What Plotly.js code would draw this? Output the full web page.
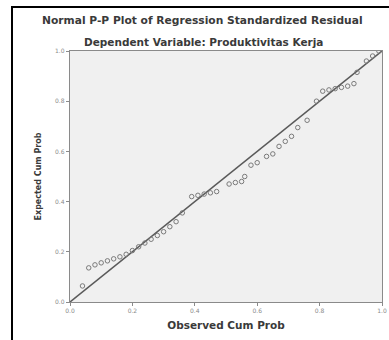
<!DOCTYPE html>
<html>
<head>
<meta charset="utf-8">
<script src="https://cdn.plot.ly/plotly-3.0.1.min.js"></script>
<style>
  html, body { margin: 0; padding: 0; background: #ffffff; }
  #wrap { position: relative; width: 389px; height: 340px; overflow: hidden; }
  #chart { width: 389px; height: 340px; }
  #frame { position: absolute; left: 11px; top: 6px; width: 400px; height: 400px;
           border-left: 2px solid #000; border-top: 2px solid #000; pointer-events: none; }
</style>
</head>
<body>
<div id="wrap">
  <div id="chart"></div>
  <div id="frame"></div>
</div>
<script>
var chartTitle = "Normal P-P Plot of Regression Standardized Residual";
var subTitle = "Dependent Variable: Produktivitas Kerja";
var xTitle = "Observed Cum Prob";
var yTitle = "Expected Cum Prob";

var tickValues = [0, 0.2, 0.4, 0.6, 0.8, 1.0];
var tickLabels = ["0.0", "0.2", "0.4", "0.6", "0.8", "1.0"];

var observedCumProb = [0.04, 0.06, 0.08, 0.10, 0.12, 0.14, 0.16, 0.18, 0.20, 0.22,
                       0.24, 0.26, 0.28, 0.30, 0.32, 0.34, 0.36, 0.39, 0.41, 0.43,
                       0.45, 0.47, 0.51, 0.53, 0.55, 0.56, 0.58, 0.60, 0.63, 0.65,
                       0.67, 0.69, 0.71, 0.73, 0.76, 0.79, 0.81, 0.83, 0.85, 0.87,
                       0.89, 0.91, 0.92, 0.95, 0.97, 0.99];
var expectedCumProb = [0.064, 0.136, 0.148, 0.156, 0.164, 0.172, 0.180, 0.190, 0.205, 0.220,
                       0.235, 0.250, 0.265, 0.280, 0.300, 0.320, 0.355, 0.420, 0.425, 0.430,
                       0.435, 0.440, 0.470, 0.476, 0.480, 0.500, 0.545, 0.555, 0.580, 0.590,
                       0.620, 0.640, 0.660, 0.695, 0.724, 0.800, 0.840, 0.845, 0.850, 0.855,
                       0.860, 0.870, 0.915, 0.960, 0.980, 1.000];

var refLineX = [0, 1];
var refLineY = [0, 1];

var fontFam = "DejaVu Sans, Verdana, sans-serif";

var traces = [
  {
    x: refLineX, y: refLineY, type: "scatter", mode: "lines",
    line: { color: "#5a5a5a", width: 1.5 }, hoverinfo: "skip", showlegend: false
  },
  {
    x: observedCumProb, y: expectedCumProb, type: "scatter", mode: "markers",
    marker: { symbol: "circle-open", size: 4.5, color: "#7a7a7a", line: { width: 1, color: "#7a7a7a" } },
    showlegend: false
  }
];

var axisCommon = {
  range: [0, 1], tickvals: tickValues, ticktext: tickLabels,
  showgrid: false, zeroline: false, showline: true, mirror: true,
  linecolor: "#8a8a8a", linewidth: 1.2, ticks: "outside", ticklen: 3,
  tickcolor: "#8a8a8a", tickfont: { family: fontFam, size: 6, color: "#8a8a8a" }
};

var layout = {
  width: 389, height: 340,
  margin: { l: 70, r: 7, t: 51, b: 38, pad: 0 },
  paper_bgcolor: "#ffffff",
  plot_bgcolor: "#f0f0f0",
  xaxis: Object.assign({}, axisCommon, {
    title: { text: "<b>" + xTitle + "</b>", standoff: 8,
             font: { family: fontFam, size: 10.5, color: "#3a3a3a" } }
  }),
  yaxis: Object.assign({}, axisCommon, {
    title: { text: "<b>" + yTitle + "</b>", standoff: 12,
             font: { family: fontFam, size: 8, color: "#3a3a3a" } }
  }),
  annotations: [
    {
      text: "<b>" + chartTitle + "</b>", xref: "paper", yref: "paper",
      x: 0.426, y: 1.12, xanchor: "center", yanchor: "middle", showarrow: false,
      font: { family: fontFam, size: 10.7, color: "#3a3a3a" }
    },
    {
      text: "<b>" + subTitle + "</b>", xref: "paper", yref: "paper",
      x: 0.428, y: 1.036, xanchor: "center", yanchor: "middle", showarrow: false,
      font: { family: fontFam, size: 10.5, color: "#3a3a3a" }
    }
  ]
};

Plotly.newPlot("chart", traces, layout, { displayModeBar: false, staticPlot: true });
</script>
</body>
</html>
